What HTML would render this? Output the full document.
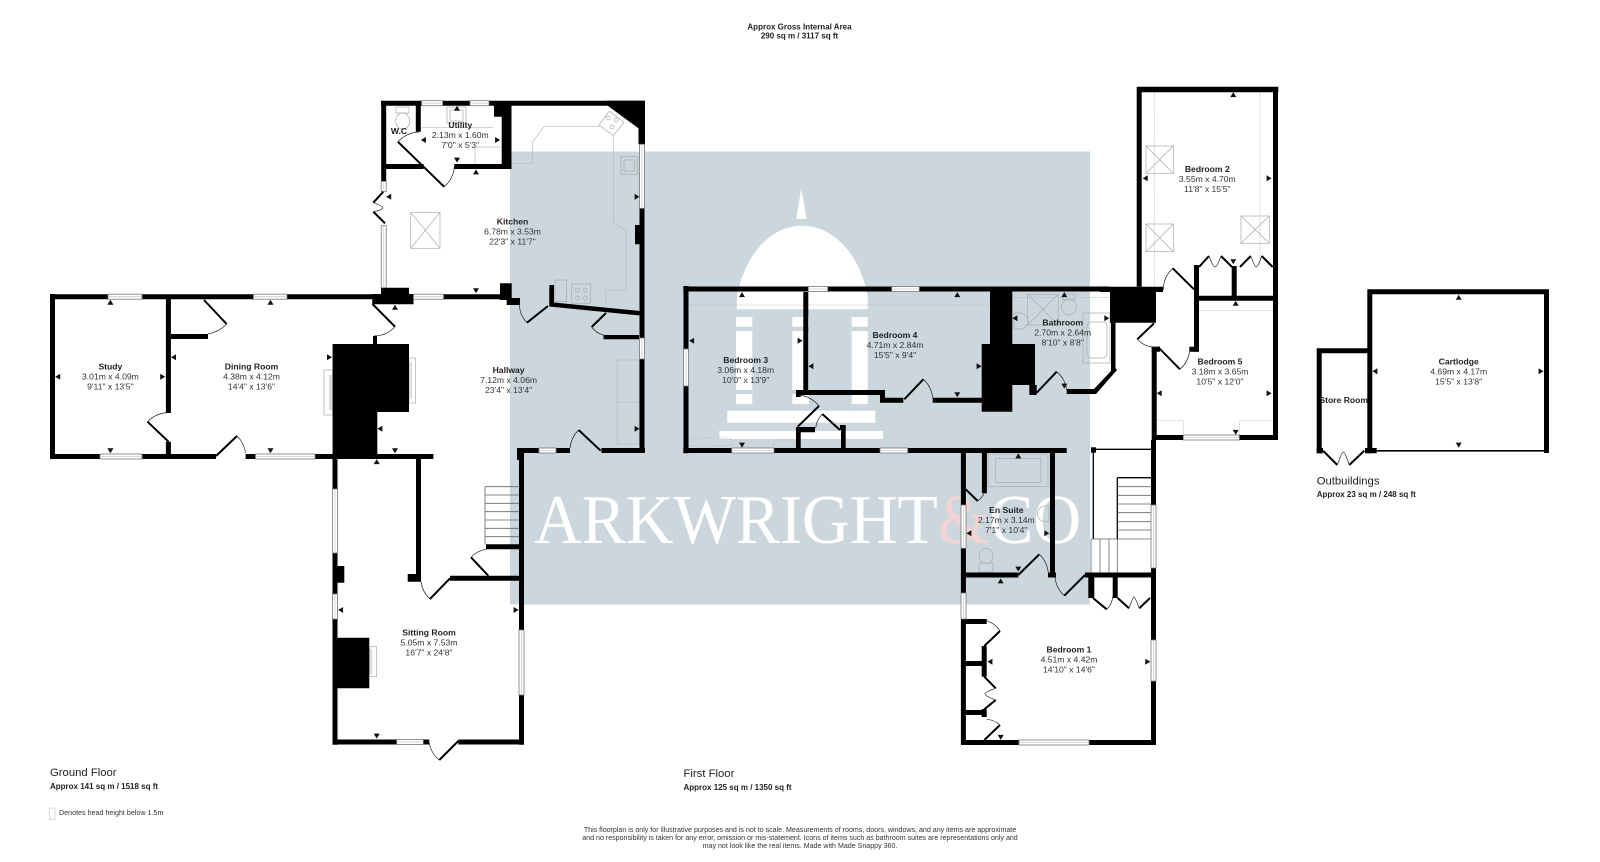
<!DOCTYPE html>
<html><head><meta charset="utf-8"><title>Floor plan</title>
<style>
html,body{margin:0;padding:0;background:#fff;width:1600px;height:862px;overflow:hidden}
svg{display:block}
text{font-family:"Liberation Sans",sans-serif;text-anchor:middle}
.t{font-size:8.6px;font-weight:bold;fill:#222}
.d{font-size:8.6px;fill:#333}
.b{font-size:8px;font-weight:bold;fill:#222}
.h{font-size:11.3px;fill:#222;text-anchor:start}
.w{fill:none;stroke:#000;stroke-width:5}
.k{fill:#000}
.l{fill:none;stroke:#000;stroke-width:2}
.a{fill:none;stroke:#222;stroke-width:.7}
.g{fill:#fff;stroke:#777;stroke-width:.8}
.u{fill:none;stroke:#bbb;stroke-width:.7}
.o{fill:none;stroke:#bbb;stroke-width:.7;stroke-dasharray:1.5 1}
.s{fill:none;stroke:#aaa;stroke-width:.7}
.st{fill:none;stroke:#666;stroke-width:.8}
</style></head><body>
<svg width="1600" height="862" viewBox="0 0 1600 862" xmlns="http://www.w3.org/2000/svg">
<defs>
<path id="au" d="M-3,2.4 L0,-2.6 L3,2.4 Z"/>
<path id="ad" d="M-3,-2.4 L0,2.6 L3,-2.4 Z"/>
<path id="al" d="M2.4,-3 L-2.6,0 L2.4,3 Z"/>
<path id="ar" d="M-2.4,-3 L2.6,0 L-2.4,3 Z"/>
</defs>
<!-- watermark -->
<rect x="510" y="151.5" width="580" height="453" fill="#ccd7dd"/>
<g fill="#fff">
<path d="M801.3,188.3 L806.7,219 H796.3 Z"/>
<path d="M736.7,309.3 L737,296 C745,255 770,225.7 802,225.7 C834,225.7 860,255 867.7,296 L867.7,309.3 Z"/>
<rect x="736" y="317" width="16.3" height="9.7"/><rect x="736" y="331" width="16.3" height="59"/><rect x="736" y="394" width="16.3" height="10"/>
<rect x="792.3" y="317" width="16.7" height="9.7"/><rect x="792.3" y="331" width="16.7" height="59"/><rect x="792.3" y="394" width="16.7" height="10"/>
<rect x="851.7" y="317" width="16" height="9.7"/><rect x="851.7" y="331" width="16" height="59"/><rect x="851.7" y="394" width="16" height="10"/>
<rect x="727.3" y="410.7" width="148" height="12"/>
<rect x="719.3" y="431" width="163.7" height="8"/>
</g>
<text x="534" y="543" textLength="547" lengthAdjust="spacingAndGlyphs" style="font-family:'Liberation Serif',serif;font-size:70px;text-anchor:start;fill:#fff">ARKWRIGHT<tspan fill="#f3d3d3">&amp;</tspan>CO</text>

<!-- light fittings -->
<g>
<path class="u" d="M510,163.3 H532.7 V141.7 L544,126.7 H599.3 M613.3,136.7 V223.3 L626,230 V290 H606 V305"/>
<path class="u" d="M421.7,127.7 H493 M475,145 V163.3 M475,147 H500"/>
<rect class="u" x="617" y="360" width="22" height="84"/><path class="u" d="M617,402.7 H639"/>
<rect class="s" x="555" y="280" width="11.7" height="21.7"/>
<rect class="s" x="410.7" y="212.3" width="29.3" height="36"/><path class="s" d="M410.7,212.3 L440,248.3 M440,212.3 L410.7,248.3"/>
<rect class="s" x="621" y="156.7" width="16.3" height="17.6"/><rect class="s" x="624" y="160" width="10.3" height="11"/>
<rect class="s" x="571.7" y="284" width="19" height="19.3"/><circle class="s" cx="577.5" cy="290" r="2"/><circle class="s" cx="585" cy="290" r="2"/><circle class="s" cx="577.5" cy="298" r="2"/><circle class="s" cx="585" cy="298" r="2"/>
<path class="s" d="M609.3,111 L624,122.3 L613.3,135.7 L599,125 Z"/><circle class="s" cx="608" cy="118" r="2"/><circle class="s" cx="616" cy="120" r="2"/><circle class="s" cx="612" cy="127" r="2"/>
<rect class="s" x="447" y="107" width="19" height="16"/><rect class="s" x="450" y="110" width="13" height="11"/>
<rect class="s" x="396" y="107" width="13" height="6"/><ellipse class="s" cx="402.7" cy="121" rx="7" ry="8"/>
<rect class="s" x="324" y="370" width="8.6" height="45"/><rect x="329" y="375" width="3.6" height="35" fill="#ddd"/>
<rect class="s" x="409" y="358" width="6.6" height="45"/><rect x="409" y="362" width="3" height="37" fill="#ddd"/>
<rect class="s" x="369.3" y="646.7" width="7.4" height="30"/><rect x="369.3" y="649" width="3" height="25" fill="#ddd"/>
<!-- first floor fittings -->
<path class="o" d="M689,305 H803 M808,305 H990 M1012,297.5 H1110"/>
<rect class="o" x="689" y="438" width="42" height="8"/><rect class="o" x="774" y="440" width="21" height="8"/>
<rect class="s" x="1027.7" y="294.3" width="30.6" height="30.7"/><path class="s" d="M1027.7,294.3 L1058.3,325 M1058.3,294.3 L1027.7,325"/>
<ellipse class="s" cx="1069" cy="307" rx="7.5" ry="8"/><rect class="s" x="1063" y="294" width="12" height="6"/>
<path class="s" d="M1014,313 H1020 A8,8 0 0 1 1020,329 H1014 Z"/>
<rect class="s" x="1083" y="313" width="27" height="50"/><rect class="s" x="1087" y="322" width="20" height="36" rx="4"/>
<rect class="s" x="988" y="454" width="60" height="32.7"/><rect class="s" x="995.7" y="458.5" width="45.3" height="24"/>
<path class="s" d="M1049,506 H1044 A8,8 0 0 0 1044,521.7 H1049 Z"/>
<rect class="s" x="979" y="563" width="14" height="9"/><ellipse class="s" cx="986" cy="556" rx="7" ry="7.5"/>
<path class="o" d="M1154.3,92 V286 M1260,92 V266 M1199,310.7 H1273 M1157,420.7 H1183.3 V435 M1239.3,435 V420.7 H1273"/>
<rect class="s" x="1146" y="146" width="27.3" height="27.3"/><path class="s" d="M1146,146 L1173.3,173.3 M1173.3,146 L1146,173.3"/>
<rect class="s" x="1146" y="224" width="27.3" height="27.7"/><path class="s" d="M1146,224 L1173.3,251.7 M1173.3,224 L1146,251.7"/>
<rect class="s" x="1241" y="216" width="28.3" height="27.3"/><path class="s" d="M1241,216 L1269.3,243.3 M1269.3,216 L1241,243.3"/>
</g>

<!-- stairs -->
<path class="st" d="M485,486.7 V544.3 M485,486.7 H519 M485,495 H519 M485,503.3 H519 M485,511.7 H519 M485,520 H519 M485,528.3 H519 M485,536.7 H519"/>
<path d="M1093.3,449 V539 M1093.3,449.3 H1151 M1117.3,477.7 V539 M1117.3,477.7 H1151" fill="none" stroke="#000" stroke-width="1.3"/>
<path class="st" d="M1117.3,486.7 H1151 M1117.3,495.3 H1151 M1117.3,504 H1151 M1117.3,512.7 H1151 M1117.3,521.7 H1151 M1117.3,530 H1151 M1091,539 H1151 M1091,539 V572.7 M1100,539 V572.7 M1109,539 V572.7 M1117.3,539 V572.7"/>

<!-- ground walls -->
<path class="w" d="M50,296.7 H381 M52.5,294 V459 M50,456.5 H216 M245.6,456.5 H433.4 M409,296.7 H506 M168.4,299 V413 M168.4,441.7 V454 M171,336.5 H208"/>
<path class="w" d="M383.7,100.7 V181 M381,103.2 H645 M642,100.7 V143 M642,207 V338 M642,359 V453 M601.5,450.5 H645 M518.5,450.5 H570"/>
<path class="w" d="M386,166.5 H423.6 M454.4,166.5 H511 M418.3,105 V131.7"/>
<path class="k" d="M606.7,105 L638.5,128.3 V144.3 H645 V100.7 H606.7 Z"/>
<path class="k" d="M501.7,105 H511.5 V169 H501.7 Z M494,105 H502 V116.7 H494 Z M635,225 H640 V244.3 H635 Z"/>
<path class="k" d="M381,287.7 H409 V294 H413.5 V304.3 H372.3 V294 H381 Z M500,283.3 H511.7 V298 H520 V305 H506.7 V300 H500 Z"/>
<path class="k" d="M373,336 H377 V345 H373 Z M332.6,344 H409 V412 H377.3 V459 H332.6 Z"/>
<path class="k" d="M549.3,285 H554 V302.5 L640,311 V315.5 L549.3,306.5 Z M603.5,335 H639 V339.3 H603.5 Z"/>
<path class="k" d="M517,448 H524 V460 H517 Z"/>
<path class="w" d="M335,454 V744.7 M332.7,742 H429.3 M458.3,742 H524 M521.5,448 V744.7 M418.5,459 V577 M450,578.3 H519 M486,546.8 H519"/>
<path class="k" d="M337,566 H344.3 V582.7 H337 Z M332.7,637.7 H369.3 V688.3 H332.7 Z M407.7,574 H421 V581.7 H407.7 Z"/>
<!-- first walls -->
<path class="w" d="M686,286 V453.3 M683.3,289 H1110 M805.8,292 V390 M683.3,450.5 H1066.7"/>
<path class="k" d="M796,390 H885 V397.7 H903.3 V402.7 H880 V395 H796 Z M932.7,397.7 H982 V402.7 H932.7 Z"/>
<path class="k" d="M990,289 H1012.3 V344 H1035 V385 H1036.7 V395 H1029.3 V385 H1012.3 V411.7 H981.7 V344 H990 Z"/>
<path class="k" d="M1066.7,389 H1094 L1111,371 V322 H1115.5 V368 L1117,370 L1096,394 H1066.7 Z"/>
<path class="k" d="M1100,286.7 H1163 V292 H1156 V322.7 H1110 V292 H1100 Z"/>
<path class="k" d="M796,390 H800.7 V397 H796 Z M796,427 H815 V432.3 H800.7 V448 H796 Z M840,425 H845.7 V448 H841 V430 H840 Z"/>
<path class="w" d="M963.4,453 V505 M963.4,548 V593 M963.4,619 V745 M984.4,453 V493.3 M1052.5,453 V573 M961,575 H1018.3 M1048,575 H1056 M1085,575 H1156 M1153.5,440 V745 M961,742.5 H1019 M1089,742.5 H1156"/>
<path class="k" d="M1088.3,577 H1094.3 V598 H1088.3 Z M1112.7,577 H1117.7 V598 H1112.7 Z M961,619 H986.7 V624 H961 Z M981.7,646 H986.7 V676.7 H981.7 Z M965.7,661 H986.7 V666 H965.7 Z M981.7,709 H986.7 V717 H981.7 Z M965.7,710 H986.7 V715 H965.7 Z"/>
<path class="k" d="M1136.7,86.7 H1278.3 V92.3 H1141.7 V286.7 H1136.7 Z"/>
<path class="w" d="M1275.5,90 V440 M1196.5,265 V351.7 M1199,298.3 H1277 M1234.2,266 V296.7 M1154.2,346.7 V440 M1151.7,437.5 H1183.3 M1239.3,437.5 H1278"/>
<path class="k" d="M1189.3,346.7 H1199 V351.7 H1189.3 Z M1151.7,346.7 H1160 V351.7 H1151.7 Z"/>
<path class="k" d="M1091,447.3 H1096 V452.7 H1091 Z"/>
<!-- outbuildings -->
<path class="w" d="M1369.8,289.3 V453.3 M1367.3,291.8 H1549 M1546.5,289.3 V453 M1319.2,348.3 V453.3 M1317,350.8 H1367.3"/>
<path d="M1376,450.8 H1546" fill="none" stroke="#000" stroke-width="1.6"/>
<path class="k" d="M1365,448 H1376.7 V453.3 H1365 Z M1316.7,448 H1323 V453.3 H1316.7 Z"/>

<!-- windows -->
<g class="g">
<rect x="108" y="294.2" width="34" height="5"/><rect x="253.5" y="294.2" width="33.5" height="5"/><rect x="413.5" y="294.2" width="30" height="5"/>
<rect x="100" y="454" width="42" height="5"/><rect x="255.5" y="454" width="59.5" height="5"/>
<rect x="421.6" y="100.7" width="21" height="5"/><rect x="470" y="100.7" width="19" height="5"/>
<rect x="381.2" y="181.5" width="5" height="10.2"/><rect x="381.2" y="225.7" width="5" height="62"/>
<rect x="639.5" y="144.3" width="5" height="64"/><rect x="639.5" y="338" width="5" height="21"/>
<rect x="539" y="448" width="17" height="5"/>
<rect x="332.5" y="489" width="5" height="64"/><rect x="332.5" y="594" width="5" height="25"/>
<rect x="396.7" y="739.5" width="26.6" height="5"/><rect x="519" y="630" width="5" height="65"/>
<rect x="808.3" y="286.5" width="19.4" height="5"/><rect x="891.7" y="286.5" width="27.6" height="5"/>
<rect x="683.5" y="349" width="5" height="37"/>
<rect x="731.7" y="448" width="42.3" height="5"/><rect x="880" y="448" width="27.7" height="5"/>
<rect x="961" y="505" width="5" height="43.3"/><rect x="961" y="593" width="5" height="26"/>
<rect x="1019" y="740" width="70" height="5"/><rect x="1151" y="640" width="5" height="41"/><rect x="1151" y="505" width="5" height="63"/>
<rect x="1183.3" y="435" width="56" height="5"/>
</g>
<path d="M421.6,103.2 H442.6 M470,103.2 H489 M108,296.7 H142 M253.5,296.7 H287 M413.5,296.7 H443.5 M100,456.5 H142 M255.5,456.5 H315 M383.7,181.5 V191.7 M383.7,225.7 V287.7 M642,144.3 V208.3 M642,338 V359 M539,450.5 H556 M335,489 V553 M335,594 V619 M396.7,742 H423.3 M521.5,630 V695 M808.3,289 H827.7 M891.7,289 H919.3 M686,349 V386 M731.7,450.5 H774 M880,450.5 H907.7 M963.4,505 V548.3 M963.4,593 V619 M1019,742.5 H1089 M1153.5,640 V681 M1153.5,505 V568 M1183.3,437.5 H1239.3" fill="none" stroke="#ccc" stroke-width=".8"/>

<!-- door leaves -->
<path class="l" d="M397.8,141.7 L444.1,186.7 M527,322.7 L548,306 M591.6,327 L606,313 M147.5,421.7 L168.5,441.7 M204,300 L226.6,324 M372.5,304 L395,326.7 M216,456 L237,436 M578.6,430 L600.7,450.7 M439.3,760 L458.3,741 M430,599 L450,578.3 M471,557.3 L488.3,575.7"/>
<path class="l" d="M904.3,399.3 L923.3,379.3 M1036.7,392.7 L1056.7,371.7 M797.7,426.7 L819,406 M822.3,414 L840,430 M965.7,489.3 L977.7,501 M1018.3,575 L1039.3,554.3 M1064.3,595.7 L1085,575 M1093,598 L1106.7,609.3 M1000,631 L984.3,646 M1000,725 L984.3,740 M1172.7,268.3 L1194,289.3 M1154,323.3 L1137.3,339.3 M1159.3,348.3 L1180,369.3"/>
<path class="l" d="M1117.7,598 L1129,608.3 M1139.3,608.3 L1150,598 M984.3,676.7 L995.7,688.3 M995.7,700 L984.3,709.3 M1199,267 L1209,256 M1221,256 L1232,267 M1240,267 L1250.7,256 M1261.7,256 L1272.7,267 M1323,450.7 L1337.3,465 M1349.3,465 L1364.3,450.7"/>
<path class="l" d="M383.3,191.7 L373.3,202.7 M373.3,211.7 L385,223.3"/>
<!-- arcs -->
<path class="a" d="M398,141.7 A31,31 0 0 1 419,132 M444,187 A30,30 0 0 0 454.4,166 M527,322.7 A27,27 0 0 1 519.6,301.7 M591.6,327 A21,21 0 0 0 603.5,335 M147.5,421.7 A29,29 0 0 1 170.5,412.7 M226.6,324 A34,34 0 0 1 208,334 M395,326.7 A29,29 0 0 1 374,336 M237,436 A29,29 0 0 1 245.6,453 M578.6,430 A30,30 0 0 0 570,448 M439.3,760 A28,28 0 0 1 429.3,743 M430,599 A29,29 0 0 1 421,581.7 M471,557.3 A25,25 0 0 1 486.7,549.3"/>
<path class="a" d="M923.3,379.3 A28,28 0 0 1 932.7,398.3 M1056.7,371.7 A29,29 0 0 1 1066.7,390 M819,406 A30,30 0 0 0 798.3,395 M822.3,414 A24,24 0 0 0 815.7,428 M977.7,501 A18,18 0 0 0 984,493.3 M1039.3,554.3 A30,30 0 0 1 1048.3,573 M1064.3,595.7 A29,29 0 0 1 1055,577.3 M1106.7,609.3 A19,19 0 0 0 1112.7,596.7 M1000,631 A24,24 0 0 0 986.7,620.7 M1000,725 A22,22 0 0 0 986.7,719.3 M1172.7,268.3 A30,30 0 0 0 1163.3,290 M1137.3,339.3 A24,24 0 0 0 1159.3,346.7 M1180,369.3 A30,30 0 0 0 1190,346.7"/>
<path class="a" d="M1129,608.3 Q1133,597 1134,597 Q1135,597 1139.3,608.3 M995.7,688.3 Q985,692 985,694 Q985,696 995.7,700 M1209,256 Q1213,267 1215,267 Q1217,267 1221,256 M1250.7,256 Q1255,267 1256,267 Q1258,267 1261.7,256 M1337.3,465 Q1342,452 1343.3,452 Q1345,452 1349.3,465 M373.3,202.7 Q383,206 382.7,208 Q382,210 373.3,211.7"/>

<!-- arrows -->
<g fill="#111">
<use href="#au" x="110.4" y="302.3"/><use href="#ad" x="110.4" y="450.7"/><use href="#al" x="57.8" y="376.7"/><use href="#ar" x="162.6" y="376.7"/>
<use href="#au" x="270.5" y="302.3"/><use href="#ad" x="270.5" y="450.7"/><use href="#al" x="173.6" y="357.3"/><use href="#ar" x="329.4" y="357.3"/>
<use href="#au" x="395" y="307.3"/><use href="#ad" x="395" y="450.7"/><use href="#al" x="380" y="428.7"/><use href="#ar" x="637" y="428.7"/>
<use href="#au" x="476" y="172"/><use href="#ad" x="476" y="290.7"/><use href="#al" x="388.8" y="196.7"/><use href="#ar" x="637" y="196.7"/>
<use href="#au" x="457" y="108.3"/><use href="#ad" x="457" y="160"/><use href="#al" x="423.5" y="140"/><use href="#ar" x="497.5" y="140"/>
<use href="#au" x="376.7" y="461.7"/><use href="#ad" x="376.7" y="736"/><use href="#al" x="340.7" y="610"/><use href="#ar" x="516" y="610"/>
<use href="#au" x="742" y="294.7"/><use href="#ad" x="742" y="445"/><use href="#al" x="691.7" y="340.7"/><use href="#ar" x="800" y="340.7"/>
<use href="#au" x="957.3" y="294.7"/><use href="#ad" x="957.3" y="394.7"/><use href="#al" x="811" y="366.3"/><use href="#ar" x="979" y="366.3"/>
<use href="#au" x="1064.3" y="294.7"/><use href="#ad" x="1064.3" y="386"/><use href="#al" x="1015" y="318.3"/><use href="#ar" x="1106.7" y="318.3"/>
<use href="#au" x="1018.3" y="456"/><use href="#ad" x="1018.3" y="569"/><use href="#al" x="969" y="533.3"/><use href="#ar" x="1046.7" y="533.3"/>
<use href="#au" x="1000.7" y="581"/><use href="#ad" x="1000.7" y="737.3"/><use href="#al" x="990" y="661.7"/><use href="#ar" x="1147.7" y="661.7"/>
<use href="#au" x="1233.3" y="94.7"/><use href="#ad" x="1233.3" y="261.7"/><use href="#al" x="1145.3" y="178.3"/><use href="#ar" x="1269" y="178.3"/>
<use href="#au" x="1235.7" y="303.3"/><use href="#ad" x="1235.7" y="432.3"/><use href="#al" x="1159.3" y="393.3"/><use href="#ar" x="1269" y="393.3"/>
<use href="#au" x="1458.7" y="297.3"/><use href="#ad" x="1458.7" y="445"/><use href="#al" x="1375" y="371.3"/><use href="#ar" x="1541" y="371.3"/>
</g>

<!-- labels -->
<text class="t" x="460.3" y="128">Utility</text><text class="d" x="460.3" y="138">2.13m x 1.60m</text><text class="d" x="460.3" y="148">7'0" x 5'3"</text>
<text class="t" x="399" y="134">W.C</text>
<text class="t" x="512.5" y="224.7">Kitchen</text><text class="d" x="512.5" y="234.7">6.78m x 3.53m</text><text class="d" x="512.5" y="244.7">22'3" x 11'7"</text>
<text class="t" x="110.4" y="369.7">Study</text><text class="d" x="110.4" y="379.7">3.01m x 4.09m</text><text class="d" x="110.4" y="389.7">9'11" x 13'5"</text>
<text class="t" x="251.5" y="369.7">Dining Room</text><text class="d" x="251.5" y="379.7">4.38m x 4.12m</text><text class="d" x="251.5" y="389.7">14'4" x 13'6"</text>
<text class="t" x="508.6" y="373">Hallway</text><text class="d" x="508.6" y="383">7.12m x 4.06m</text><text class="d" x="508.6" y="393">23'4" x 13'4"</text>
<text class="t" x="429" y="635.7">Sitting Room</text><text class="d" x="429" y="645.7">5.05m x 7.53m</text><text class="d" x="429" y="655.7">16'7" x 24'8"</text>
<text class="t" x="745.7" y="363">Bedroom 3</text><text class="d" x="745.7" y="373">3.06m x 4.18m</text><text class="d" x="745.7" y="383">10'0" x 13'9"</text>
<text class="t" x="895" y="338">Bedroom 4</text><text class="d" x="895" y="348">4.71m x 2.84m</text><text class="d" x="895" y="358">15'5" x 9'4"</text>
<text class="t" x="1062.7" y="325.3">Bathroom</text><text class="d" x="1062.7" y="335.3">2.70m x 2.64m</text><text class="d" x="1062.7" y="345.3">8'10" x 8'8"</text>
<text class="t" x="1006.3" y="513">En Suite</text><text class="d" x="1006.3" y="523">2.17m x 3.14m</text><text class="d" x="1006.3" y="533">7'1" x 10'4"</text>
<text class="t" x="1069" y="652.3">Bedroom 1</text><text class="d" x="1069" y="662.3">4.51m x 4.42m</text><text class="d" x="1069" y="672.3">14'10" x 14'6"</text>
<text class="t" x="1207.3" y="172">Bedroom 2</text><text class="d" x="1207.3" y="182">3.55m x 4.70m</text><text class="d" x="1207.3" y="192">11'8" x 15'5"</text>
<text class="t" x="1220" y="364.7">Bedroom 5</text><text class="d" x="1220" y="374.7">3.18m x 3.65m</text><text class="d" x="1220" y="384.7">10'5" x 12'0"</text>
<text class="t" x="1458.7" y="364.7">Cartlodge</text><text class="d" x="1458.7" y="374.7">4.69m x 4.17m</text><text class="d" x="1458.7" y="384.7">15'5" x 13'8"</text>
<text class="t" x="1343.7" y="403">Store Room</text>

<text class="b" x="799.5" y="29.5">Approx Gross Internal Area</text>
<text class="b" x="799.5" y="38.5">290 sq m / 3117 sq ft</text>
<text class="h" x="50" y="776">Ground Floor</text>
<text class="b" x="50" y="789" style="text-anchor:start">Approx 141 sq m / 1518 sq ft</text>
<text class="h" x="683.5" y="777">First Floor</text>
<text class="b" x="683.5" y="790" style="text-anchor:start">Approx 125 sq m / 1350 sq ft</text>
<text class="h" x="1316.7" y="484.7">Outbuildings</text>
<text class="b" x="1316.7" y="497" style="text-anchor:start">Approx 23 sq m / 248 sq ft</text>
<rect x="49.5" y="808" width="5.5" height="11.5" fill="#fff" stroke="#ccc" stroke-width=".7"/>
<text x="59" y="815" style="font-size:7.15px;text-anchor:start;fill:#333">Denotes head height below 1.5m</text>
<g style="font-size:7.08px" fill="#333">
<text x="800" y="832">This floorplan is only for illustrative purposes and is not to scale. Measurements of rooms, doors, windows, and any items are approximate</text>
<text x="800" y="840">and no responsibility is taken for any error, omission or mis-statement. Icons of items such as bathroom suites are representations only and</text>
<text x="800" y="848">may not look like the real items. Made with Made Snappy 360.</text>
</g>
</svg>
</body></html>
